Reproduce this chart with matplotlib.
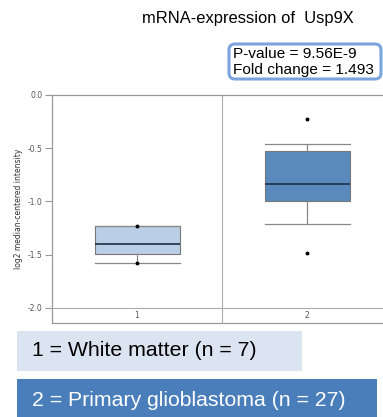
import matplotlib
matplotlib.use('Agg')
import matplotlib.pyplot as plt
from matplotlib.patches import Rectangle, FancyBboxPatch

# box statistics
groups = ['1', '2']
q1 = [-1.49, -1.00]
med = [-1.40, -0.84]
q3 = [-1.23, -0.53]
whislo = [-1.58, -1.21]
whishi = [-1.23, -0.46]
points = [[-1.23, -1.58], [-0.23, -1.48]]
box_colors = ['#b9cfe5', '#5a8abd']

y_ticks = [-2.0, -1.5, -1.0, -0.5, 0.0]

title = 'mRNA-expression of  Usp9X'
stats_lines = ['P-value = 9.56E-9', 'Fold change = 1.493']
legend_labels = ['1 = White matter (n = 7)', '2 = Primary glioblastoma (n = 27)']

W, H = 383, 417
fig = plt.figure(figsize=(W / 100, H / 100), dpi=100)

# overlay in pixel coordinates for the annotations
ov = fig.add_axes([0, 0, 1, 1])
ov.set_xlim(0, W)
ov.set_ylim(H, 0)
ov.axis('off')

sans = ['Liberation Sans', 'DejaVu Sans']
ov.text(248, 18, title, fontsize=11.9, family=sans, ha='center', va='center')

ov.add_patch(FancyBboxPatch((229, 44), 152, 35, boxstyle='round,pad=0,rounding_size=6',
                            fc='white', ec='#7ba4dc', lw=2.2))
ov.text(233, 54, stats_lines[0], fontsize=11.1, family=sans, va='center')
ov.text(233, 70, stats_lines[1], fontsize=11.1, family=sans, va='center')

ov.add_patch(Rectangle((17, 331), 285, 40, fc='#dbe5f1', ec='none'))
ov.text(32, 351, legend_labels[0], fontsize=15.3, family=sans, va='center', color='black')
ov.add_patch(Rectangle((17, 379), 360, 40, fc='#4a7ebb', ec='none'))
ov.text(32, 400, legend_labels[1], fontsize=15.3, family=sans, va='center', color='white')

# main box plot axes
left, right, top, bottom = 52, 392, 95, 323
ax = fig.add_axes([left / W, (H - bottom) / H, (right - left) / W, (bottom - top) / H])

stats = []
for i in range(len(groups)):
    stats.append(dict(med=med[i], q1=q1[i], q3=q3[i], whislo=whislo[i],
                      whishi=whishi[i], fliers=points[i], label=groups[i]))

bp = ax.bxp(stats, positions=[1, 2], widths=0.5, patch_artist=True,
            showfliers=True,
            medianprops=dict(color='#1f2f45', lw=1.2),
            whiskerprops=dict(color='#888888', lw=0.9),
            capprops=dict(color='#888888', lw=0.9),
            capwidths=0.5,
            flierprops=dict(marker='o', markersize=1.8, markerfacecolor='black',
                            markeredgecolor='black'))
for patch, c in zip(bp['boxes'], box_colors):
    patch.set_facecolor(c)
    patch.set_edgecolor('#777777')
    patch.set_linewidth(0.8)

ax.set_xlim(0.5, 2.5)
ax.set_ylim(-2.141, 0)
ax.axvline(1.5, color='#aaaaaa', lw=0.8, zorder=0)
ax.axhline(-2.0, color='#aaaaaa', lw=0.8, zorder=0)
for i, g in enumerate(groups):
    ax.text(i + 1, -2.07, g, fontsize=5.5, color='#555555', ha='center', va='center')

ax.set_xticks([])
ax.set_yticks(y_ticks)
ax.set_yticklabels(['%.1f' % v for v in y_ticks])
ax.tick_params(axis='y', labelsize=5.5, labelcolor='#555555', color='#999999',
               length=5, width=0.8, pad=2)
ax.set_ylabel('log2 median-centered intensity', fontsize=5.5, color='#333333', labelpad=3)
for s in ax.spines.values():
    s.set_color('#999999')
    s.set_linewidth(0.9)

fig.savefig('out.png', dpi=100)
